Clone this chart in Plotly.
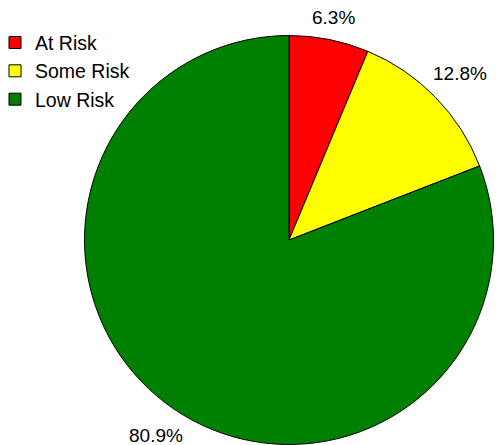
import math
import plotly.graph_objects as go

categories = ["At Risk", "Some Risk", "Low Risk"]
values = [6.3, 12.8, 80.9]
colors = ["#FF0000", "#FFFF00", "#008000"]

# page has an 8px body margin; size the figure so it fits the 502x445 window
OFF = 8
W, H = 502 - OFF, 445 - OFF
FONT = "Liberation Sans, Arial, sans-serif"
FS = 19

# pie geometry (in figure pixels)
cx, cy, r = 289 - OFF, 240 - OFF, 204.5

fig = go.Figure(go.Pie(
    labels=categories,
    values=values,
    sort=False,
    direction="clockwise",
    rotation=0,
    marker=dict(colors=colors, line=dict(color="black", width=1)),
    textinfo="none",
    domain=dict(x=[(cx - r) / W, (cx + r) / W],
                y=[(H - (cy + r)) / H, (H - (cy - r)) / H]),
    hoverinfo="label+percent",
))

# outside percentage labels placed along each slice's mid angle
total = sum(values)
cum = 0.0
annotations = []
for v in values:
    mid = (cum + v / 2) / total * 2 * math.pi
    cum += v
    txt = f"{v:.1f}%"
    hw = len(txt) * FS * 0.28
    hh = FS * 0.5
    d = r + 9 + hw * abs(math.sin(mid)) + hh * abs(math.cos(mid))
    px = cx + d * math.sin(mid)
    py = cy - d * math.cos(mid)
    annotations.append(dict(
        x=px / W, y=1 - py / H, xref="paper", yref="paper",
        text=txt, showarrow=False, xanchor="center", yanchor="middle",
        font=dict(family=FONT, size=FS, color="#000000"),
    ))

fig.update_layout(
    width=W, height=H,
    margin=dict(l=0, r=0, t=0, b=0, autoexpand=False),
    paper_bgcolor="white",
    plot_bgcolor="white",
    font=dict(family=FONT, size=FS, color="#000000"),
    showlegend=True,
    legend=dict(x=-13 / W, y=0.965, xanchor="left", yanchor="top",
                bgcolor="rgba(0,0,0,0)", font=dict(family=FONT, size=19.5, color="#000000")),
    annotations=annotations,
)

fig.write_html("out.html")
